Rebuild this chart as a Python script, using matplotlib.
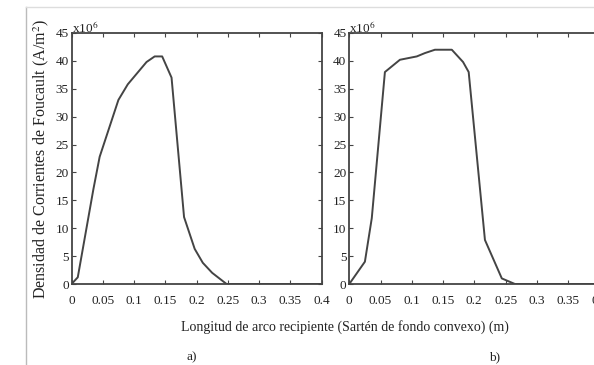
import numpy as np
import matplotlib
matplotlib.use('Agg')
import matplotlib.pyplot as plt
from matplotlib.lines import Line2D

plt.rcParams['font.family'] = ['Liberation Serif', 'DejaVu Serif']
plt.rcParams['mathtext.fontset'] = 'stix'

# a) densidad de corrientes, escala x10^6
x_a = [0, 0.01, 0.035, 0.045, 0.075, 0.09, 0.12, 0.133, 0.145, 0.16, 0.18, 0.197, 0.21, 0.225, 0.248, 0.4]
y_a = [0, 1.2, 17, 22.8, 33, 35.8, 39.8, 40.8, 40.8, 37, 12, 6.3, 3.8, 2, 0, 0]

# b)
x_b = [0, 0.025, 0.036, 0.057, 0.081, 0.108, 0.121, 0.137, 0.164, 0.182, 0.191, 0.217, 0.244, 0.265, 0.4]
y_b = [0, 4, 11.8, 38, 40.2, 40.8, 41.4, 42, 42, 39.8, 38, 7.9, 1, 0, 0]

xticks = [0, 0.05, 0.1, 0.15, 0.2, 0.25, 0.3, 0.35, 0.4]
xtick_labels = ['0', '0.05', '0.1', '0.15', '0.2', '0.25', '0.3', '0.35', '0.4']
yticks = [0, 5, 10, 15, 20, 25, 30, 35, 40, 45]

fig = plt.figure(figsize=(5.94, 3.65), dpi=100)
line_col = '#444444'
txt_col = '#222222'

def style(ax):
    ax.set_xlim(0, 0.4)
    ax.set_ylim(0, 45)
    ax.set_xticks(xticks)
    ax.set_xticklabels(xtick_labels)
    ax.set_yticks(yticks)
    ax.tick_params(direction='in', top=True, right=True, length=3,
                   labelsize=9.5, colors=line_col, labelcolor=txt_col)
    ax.tick_params(axis='x', pad=8)
    ax.tick_params(axis='y', pad=2)
    for s in ax.spines.values():
        s.set_color(line_col)
        s.set_linewidth(1.3)
    ax.text(0.0, 0.99, r'x10$^6$', transform=ax.transAxes, fontsize=9.5,
            color=txt_col, va='bottom', ha='left')

ax1 = fig.add_axes([0.1204, 0.2219, 0.421, 0.6877])
ax1.plot(x_a, y_a, color=line_col, lw=1.4)
style(ax1)
ax1.set_ylabel('Densidad de Corrientes de Foucault (A/m$^2$)', fontsize=11.5,
               color=txt_col, labelpad=3)

ax2 = fig.add_axes([0.588, 0.2219, 0.421, 0.6877])
ax2.plot(x_b, y_b, color=line_col, lw=1.4)
style(ax2)

fig.text(0.581, 1 - 327/365, 'Longitud de arco recipiente (Sartén de fondo convexo) (m)',
         ha='center', va='center', fontsize=10, color=txt_col)
fig.text(192/594, 1 - 357/365, 'a)', ha='center', va='center', fontsize=9.5, color=txt_col)
fig.text(495/594, 1 - 357/365, 'b)', ha='center', va='center', fontsize=9.5, color=txt_col)

# marco del documento
fig.add_artist(Line2D([26/594, 26/594], [0, 1 - 7/365], transform=fig.transFigure,
                      color='#bbbbbb', lw=1))
fig.add_artist(Line2D([26/594, 1], [1 - 7/365, 1 - 7/365], transform=fig.transFigure,
                      color='#dddddd', lw=1))

fig.savefig('out.png', dpi=100)
